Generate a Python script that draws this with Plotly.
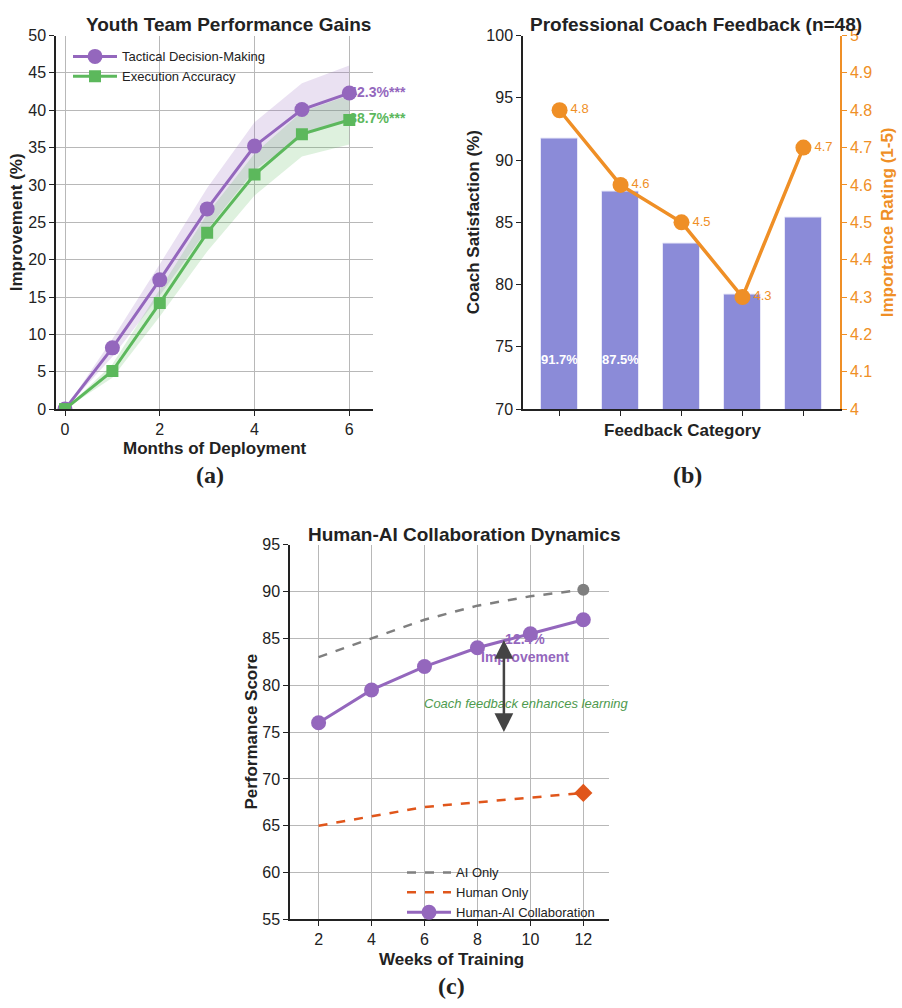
import plotly.graph_objects as go

W, H = 902, 1008

# ---------------- data ----------------
months = [0, 1, 2, 3, 4, 5, 6]
tactical = [0, 8.2, 17.3, 26.8, 35.2, 40.1, 42.3]
tactical_err = [0, 1.2, 2.1, 2.8, 3.2, 3.5, 3.7]
execution = [0, 5.1, 14.2, 23.6, 31.4, 36.8, 38.7]
execution_err = [0, 0.9, 1.8, 2.5, 2.8, 3.0, 3.3]

categories = ["Cat 1", "Cat 2", "Cat 3", "Cat 4", "Cat 5"]
satisfaction = [91.7, 87.5, 83.3, 79.2, 85.4]
importance = [4.8, 4.6, 4.5, 4.3, 4.7]

weeks = [2, 4, 6, 8, 10, 12]
ai_only = [83, 85, 87, 88.5, 89.5, 90.2]
human_only = [65, 66, 67, 67.5, 68, 68.5]
collab = [76, 79.5, 82, 84, 85.5, 87]

# ---------------- style ----------------
FONT = "Liberation Sans, Arial, sans-serif"
SERIF = "Liberation Serif, Times New Roman, serif"
PURPLE = "#9467bd"
GREEN = "#5cb85c"
BAR = "#8b8bd8"
ORANGE = "#ef8f26"
GRAY = "#7f7f7f"
RED = "#e0561b"
GRID = "#b8b8b8"
TXT = "#222222"
TICK = 16


def px(x):
    return x / W


def py(y):
    return 1 - y / H


fig = go.Figure()

# ---------------- panel (a) ----------------
for vals, err, col, fillc in [
    (tactical, tactical_err, PURPLE, "rgba(148,103,189,0.2)"),
    (execution, execution_err, GREEN, "rgba(92,184,92,0.2)"),
]:
    fig.add_trace(go.Scatter(x=months, y=[v + e for v, e in zip(vals, err)], mode="lines",
                             line=dict(width=0), showlegend=False, hoverinfo="skip",
                             xaxis="x", yaxis="y"))
    fig.add_trace(go.Scatter(x=months, y=[v - e for v, e in zip(vals, err)], mode="lines",
                             line=dict(width=0), fill="tonexty", fillcolor=fillc,
                             showlegend=False, hoverinfo="skip", xaxis="x", yaxis="y"))

fig.add_trace(go.Scatter(x=months, y=tactical, mode="lines+markers", name="Tactical Decision-Making",
                         line=dict(color=PURPLE, width=3), marker=dict(symbol="circle", size=15, color=PURPLE),
                         xaxis="x", yaxis="y", legend="legend"))
fig.add_trace(go.Scatter(x=months, y=execution, mode="lines+markers", name="Execution Accuracy",
                         line=dict(color=GREEN, width=3), marker=dict(symbol="square", size=12, color=GREEN),
                         xaxis="x", yaxis="y", legend="legend"))
fig.add_trace(go.Scatter(x=[months[-1]], y=[tactical[-1]], mode="text", text=[f"{tactical[-1]}%***"],
                         textposition="middle right", showlegend=False, cliponaxis=False,
                         textfont=dict(family=FONT, size=14, color=PURPLE, weight="bold"),
                         xaxis="x", yaxis="y"))
fig.add_trace(go.Scatter(x=[months[-1]], y=[execution[-1]], mode="text", text=[f"{execution[-1]}%***"],
                         textposition="middle right", showlegend=False, cliponaxis=False,
                         textfont=dict(family=FONT, size=14, color=GREEN, weight="bold"),
                         xaxis="x", yaxis="y"))

# ---------------- panel (b) ----------------
fig.add_trace(go.Bar(x=list(range(len(categories))), y=satisfaction, width=0.6,
                     marker=dict(color=BAR, line=dict(color="#e8e8f8", width=1)),
                     showlegend=False, xaxis="x2", yaxis="y2"))
fig.add_trace(go.Scatter(x=list(range(len(categories))), y=importance, mode="lines+markers+text",
                         text=[f"{v}" for v in importance], textposition="middle right",
                         textfont=dict(family=FONT, size=13, color=ORANGE),
                         line=dict(color=ORANGE, width=3.5), marker=dict(size=16, color=ORANGE),
                         showlegend=False, xaxis="x2", yaxis="y3", cliponaxis=False))

# ---------------- panel (c) ----------------
fig.add_trace(go.Scatter(x=weeks, y=ai_only, mode="lines", name="AI Only",
                         line=dict(color=GRAY, width=2.5, dash="dash"),
                         xaxis="x4", yaxis="y4", legend="legend2"))
fig.add_trace(go.Scatter(x=[weeks[-1]], y=[ai_only[-1]], mode="markers", showlegend=False,
                         marker=dict(symbol="circle", size=12, color=GRAY), xaxis="x4", yaxis="y4"))
fig.add_trace(go.Scatter(x=weeks, y=human_only, mode="lines", name="Human Only",
                         line=dict(color=RED, width=2.5, dash="dash"),
                         xaxis="x4", yaxis="y4", legend="legend2"))
fig.add_trace(go.Scatter(x=[weeks[-1]], y=[human_only[-1]], mode="markers", showlegend=False,
                         marker=dict(symbol="diamond", size=14, color=RED), xaxis="x4", yaxis="y4"))
fig.add_trace(go.Scatter(x=weeks, y=collab, mode="lines+markers", name="Human-AI Collaboration",
                         line=dict(color=PURPLE, width=3), marker=dict(symbol="circle", size=15, color=PURPLE),
                         xaxis="x4", yaxis="y4", legend="legend2"))

# ---------------- axes ----------------
common = dict(showline=True, linecolor="#222", linewidth=1.5, ticks="outside", ticklen=5,
              tickcolor="#222", tickfont=dict(family=FONT, size=TICK, color=TXT), zeroline=False,
              gridcolor=GRID, gridwidth=1)

dom_a_x = [px(56), px(373)]
dom_b_x = [px(523), px(840)]
dom_ab_y = [py(408), py(28)]
dom_c_x = [px(290), px(609)]
dom_c_y = [py(927), py(546)]

layout = dict(
    width=W, height=H, margin=dict(l=0, r=0, t=0, b=0),
    paper_bgcolor="white", plot_bgcolor="white",
    font=dict(family=FONT, color=TXT),
    xaxis=dict(domain=dom_a_x, anchor="y", range=[-0.19, 6.5], tickvals=[0, 2, 4, 6], showgrid=True, **common),
    yaxis=dict(domain=dom_ab_y, anchor="x", range=[0, 50], dtick=5, showgrid=True, **common),
    xaxis2=dict(domain=dom_b_x, anchor="y2", range=[-0.6, 4.6], tickvals=[0, 1, 2, 3, 4],
                ticktext=["", "", "", "", ""], showgrid=False, **common),
    yaxis2=dict(domain=dom_ab_y, anchor="x2", range=[70, 100], dtick=5, showgrid=False, **common),
    yaxis3=dict(overlaying="y2", side="right", anchor="x2", range=[4, 5], dtick=0.1, showgrid=False,
                showline=True, linecolor=ORANGE, linewidth=1.5, ticks="outside", ticklen=5,
                tickcolor=ORANGE, tickfont=dict(family=FONT, size=TICK, color=ORANGE), zeroline=False),
    xaxis4=dict(domain=dom_c_x, anchor="y4", range=[0.92, 12.97], tickvals=weeks, showgrid=True, **common),
    yaxis4=dict(domain=dom_c_y, anchor="x4", range=[55, 95], dtick=5, showgrid=True, **common),
    legend=dict(x=px(68), y=py(34), xanchor="left", yanchor="top", bgcolor="rgba(0,0,0,0)",
                font=dict(family=FONT, size=13, color=TXT), tracegroupgap=0, traceorder="normal",
                itemwidth=44),
    legend2=dict(x=px(402), y=py(864), xanchor="left", yanchor="top", bgcolor="rgba(0,0,0,0)",
                 font=dict(family=FONT, size=13, color=TXT), tracegroupgap=0, traceorder="normal",
                 itemwidth=44),
    bargap=0,
)
fig.update_layout(**layout)

ann = []


def text(x, y, s, size, color=TXT, weight="bold", angle=0, family=FONT, style="normal"):
    ann.append(dict(x=px(x), y=py(y), xref="paper", yref="paper", text=s, showarrow=False,
                    xanchor="center", yanchor="middle", textangle=angle,
                    font=dict(family=family, size=size, color=color, weight=weight, style=style)))


# titles
text(228.5, 17, "Youth Team Performance Gains", 19)
text(696, 17, "Professional Coach Feedback (n=48)", 19)
text(464.5, 536, "Human-AI Collaboration Dynamics", 19)
# axis labels
text(16, 218, "Improvement (%)", 17, angle=-90)
text(214.5, 448, "Months of Deployment", 17)
text(473, 218, "Coach Satisfaction (%)", 17, angle=-90)
text(887, 218, "Importance Rating (1-5)", 17, color=ORANGE, angle=-90)
text(682, 430, "Feedback Category", 17)
text(252, 736, "Performance Score", 17, angle=-90)
text(451, 968, "Weeks of Training", 17)
# captions
text(210, 475, "(a)", 24, family=SERIF)
text(687, 475, "(b)", 24, family=SERIF)
text(451, 995, "(c)", 24, family=SERIF)

# bar value labels (first two)
for i in range(2):
    ann.append(dict(x=i, y=74, xref="x2", yref="y2", text=f"{satisfaction[i]}%", showarrow=False,
                    font=dict(family=FONT, size=13, color="white", weight="bold")))

# panel (c) annotations
ann.append(dict(x=9.8, y=84, xref="x4", yref="y4", text="12.4%<br>Improvement", showarrow=False,
                font=dict(family=FONT, size=14, color=PURPLE, weight="bold")))
ann.append(dict(x=9.85, y=78, xref="x4", yref="y4", text="Coach feedback enhances learning", showarrow=False,
                font=dict(family=FONT, size=13, color="#4e9a4e", style="italic")))
ann.append(dict(x=9, y=75, ax=9, ay=85, xref="x4", yref="y4", axref="x4", ayref="y4", text="",
                showarrow=True, arrowhead=2, startarrowhead=2, arrowside="end+start",
                arrowsize=1.5, startarrowsize=1.5, arrowwidth=2.5, arrowcolor="#444444"))

fig.update_layout(annotations=ann)
fig.write_html("out.html")
